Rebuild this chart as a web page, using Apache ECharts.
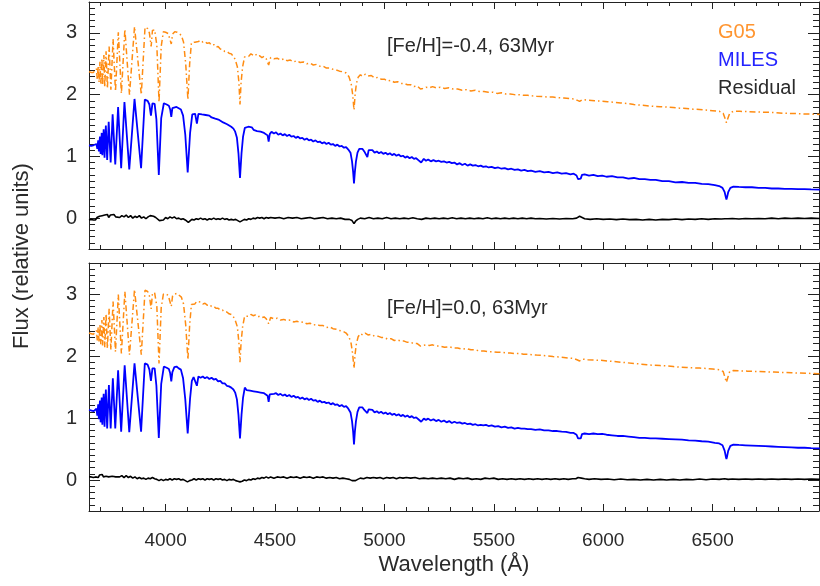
<!DOCTYPE html>
<html><head><meta charset="utf-8">
<script src="https://cdn.jsdelivr.net/npm/echarts@6/dist/echarts.min.js"></script>
<style>html,body{margin:0;padding:0;background:#fff}#c{width:820px;height:586px}</style>
</head><body><div id="c"></div>
<script>
// ---- axis / label values ----
const xTicks = [4000, 4500, 5000, 5500, 6000, 6500];
const yTicks = [0, 1, 2, 3];
const xRange = [3650, 6986];
const yRange = [-0.5, 3.5];
const panelLabels = ['[Fe/H]=-0.4, 63Myr', '[Fe/H]=0.0, 63Myr'];
const legendNames = ['G05', 'MILES', 'Residual'];
const xTitle = 'Wavelength (Å)';
const yTitle = 'Flux (relative units)';

// ---- top panel ([Fe/H]=-0.4) ----
const g05Top = [[3650,2.37],[3660,2.36],[3670,2.36],[3678,2.34],[3684,2.42],[3688,2.24],[3692,2.47],[3696,2.20],[3700,2.53],[3704,2.17],[3709,2.59],[3712,2.15],[3718,2.64],[3722,2.12],[3728,2.70],[3734,2.10],[3742,2.78],[3750,2.08],[3760,2.90],[3771,2.05],[3784,3.01],[3798,2.02],[3814,3.06],[3835,2.00],[3858,3.10],[3889,2.00],[3906,3.09],[3918,3.07],[3926,3.00],[3934,2.78],[3940,3.04],[3950,3.05],[3960,2.80],[3970,1.88],[3980,2.78],[3990,3.02],[4000,3.01],[4012,2.99],[4020,2.96],[4026,2.82],[4032,2.98],[4042,3.02],[4052,3.01],[4062,2.99],[4072,2.96],[4082,2.85],[4092,2.50],[4102,1.92],[4110,2.50],[4118,2.84],[4126,2.87],[4134,2.85],[4142,2.88],[4150,2.86],[4160,2.88],[4170,2.85],[4180,2.86],[4190,2.83],[4200,2.84],[4210,2.80],[4220,2.81],[4230,2.77],[4240,2.78],[4250,2.74],[4260,2.73],[4270,2.70],[4280,2.70],[4290,2.67],[4300,2.66],[4310,2.62],[4318,2.57],[4328,2.45],[4335,2.20],[4340,1.84],[4345,2.20],[4352,2.45],[4361,2.61],[4370,2.64],[4380,2.62],[4390,2.66],[4400,2.64],[4410,2.66],[4420,2.62],[4430,2.63],[4440,2.60],[4450,2.62],[4460,2.58],[4471,2.48],[4480,2.60],[4495,2.58],[4510,2.59],[4525,2.56],[4540,2.58],[4555,2.55],[4570,2.56],[4585,2.53],[4600,2.55],[4615,2.52],[4630,2.53],[4645,2.50],[4660,2.51],[4675,2.48],[4690,2.49],[4705,2.46],[4720,2.46],[4735,2.43],[4750,2.43],[4765,2.41],[4780,2.40],[4795,2.38],[4810,2.37],[4825,2.35],[4838,2.29],[4848,2.18],[4855,2.00],[4861,1.75],[4866,2.00],[4872,2.18],[4880,2.28],[4890,2.32],[4900,2.30],[4912,2.33],[4925,2.30],[4940,2.31],[4955,2.27],[4970,2.28],[4985,2.25],[5000,2.25],[5015,2.22],[5030,2.23],[5045,2.20],[5060,2.21],[5075,2.18],[5090,2.18],[5105,2.16],[5120,2.16],[5135,2.13],[5150,2.14],[5165,2.09],[5175,2.10],[5190,2.12],[5205,2.11],[5220,2.13],[5237,2.11],[5255,2.12],[5275,2.10],[5295,2.11],[5315,2.09],[5335,2.09],[5355,2.07],[5375,2.08],[5395,2.06],[5415,2.07],[5435,2.05],[5455,2.05],[5475,2.04],[5495,2.04],[5515,2.02],[5535,2.03],[5555,2.01],[5575,2.01],[5595,2.00],[5615,2.00],[5635,1.99],[5655,1.99],[5675,1.98],[5695,1.975],[5720,1.97],[5745,1.96],[5770,1.96],[5795,1.95],[5820,1.945],[5845,1.935],[5865,1.93],[5880,1.91],[5892,1.89],[5905,1.92],[5930,1.91],[5960,1.90],[5990,1.895],[6020,1.885],[6050,1.875],[6080,1.865],[6110,1.855],[6140,1.84],[6170,1.83],[6200,1.82],[6230,1.81],[6260,1.805],[6290,1.80],[6320,1.79],[6350,1.78],[6380,1.775],[6410,1.765],[6440,1.76],[6470,1.75],[6500,1.74],[6530,1.73],[6548,1.70],[6556,1.62],[6563,1.545],[6570,1.62],[6578,1.70],[6595,1.73],[6625,1.73],[6660,1.725],[6700,1.72],[6740,1.715],[6780,1.71],[6820,1.70],[6860,1.695],[6900,1.69],[6940,1.685],[6990,1.68]];

const milesTop = [[3650,1.18],[3660,1.17],[3670,1.18],[3678,1.16],[3684,1.20],[3688,1.12],[3692,1.26],[3695,1.08],[3700,1.32],[3703,1.04],[3708,1.38],[3711,1.02],[3717,1.44],[3721,0.98],[3727,1.50],[3733,0.94],[3740,1.56],[3749,0.90],[3758,1.68],[3770,0.87],[3783,1.80],[3797,0.81],[3812,1.88],[3834,0.79],[3858,1.93],[3888,0.81],[3905,1.92],[3918,1.90],[3926,1.84],[3933,1.66],[3940,1.86],[3950,1.85],[3958,1.60],[3969,0.70],[3980,1.62],[3992,1.86],[4005,1.84],[4015,1.82],[4021,1.76],[4026,1.64],[4031,1.78],[4040,1.81],[4050,1.80],[4060,1.78],[4070,1.76],[4080,1.66],[4090,1.35],[4101,0.74],[4112,1.38],[4122,1.68],[4128,1.71],[4135,1.69],[4143,1.53],[4150,1.69],[4158,1.66],[4166,1.68],[4175,1.65],[4183,1.67],[4192,1.64],[4200,1.66],[4210,1.63],[4218,1.65],[4227,1.61],[4236,1.63],[4245,1.59],[4254,1.60],[4263,1.55],[4272,1.57],[4281,1.52],[4290,1.51],[4300,1.48],[4310,1.45],[4318,1.40],[4326,1.30],[4333,1.05],[4340,0.65],[4347,1.05],[4354,1.32],[4362,1.46],[4370,1.44],[4378,1.48],[4386,1.45],[4394,1.47],[4402,1.43],[4410,1.45],[4418,1.41],[4426,1.43],[4434,1.40],[4442,1.42],[4450,1.38],[4458,1.40],[4466,1.34],[4471,1.24],[4476,1.36],[4484,1.40],[4495,1.37],[4505,1.39],[4515,1.35],[4525,1.37],[4535,1.34],[4545,1.36],[4555,1.33],[4565,1.35],[4575,1.32],[4585,1.33],[4595,1.30],[4605,1.32],[4615,1.29],[4625,1.30],[4635,1.27],[4645,1.29],[4655,1.26],[4665,1.27],[4675,1.24],[4685,1.26],[4695,1.23],[4705,1.24],[4715,1.21],[4725,1.23],[4735,1.20],[4745,1.22],[4755,1.19],[4765,1.20],[4775,1.17],[4785,1.19],[4795,1.16],[4805,1.17],[4815,1.14],[4825,1.15],[4835,1.11],[4845,1.06],[4852,0.92],[4857,0.75],[4861,0.56],[4865,0.75],[4870,0.92],[4877,1.06],[4885,1.12],[4893,1.09],[4900,1.12],[4908,1.08],[4915,1.10],[4922,0.99],[4928,1.10],[4936,1.07],[4945,1.10],[4955,1.06],[4965,1.08],[4975,1.05],[4985,1.07],[4995,1.04],[5005,1.06],[5015,1.03],[5025,1.05],[5035,1.02],[5045,1.04],[5055,1.01],[5065,1.03],[5075,1.00],[5085,1.01],[5095,0.98],[5105,1.00],[5115,0.97],[5125,0.99],[5135,0.96],[5145,0.97],[5155,0.94],[5163,0.96],[5168,0.90],[5174,0.92],[5180,0.96],[5190,0.93],[5200,0.95],[5212,0.92],[5224,0.94],[5236,0.92],[5248,0.93],[5260,0.91],[5272,0.92],[5284,0.90],[5296,0.91],[5308,0.89],[5320,0.90],[5332,0.87],[5344,0.89],[5356,0.86],[5368,0.88],[5380,0.85],[5392,0.87],[5404,0.85],[5416,0.86],[5428,0.84],[5440,0.85],[5452,0.83],[5464,0.84],[5476,0.82],[5490,0.83],[5505,0.81],[5520,0.82],[5535,0.80],[5550,0.81],[5565,0.79],[5580,0.80],[5595,0.78],[5610,0.79],[5625,0.77],[5640,0.78],[5655,0.76],[5670,0.77],[5690,0.75],[5710,0.76],[5730,0.74],[5750,0.75],[5770,0.73],[5790,0.74],[5810,0.72],[5830,0.73],[5850,0.71],[5865,0.72],[5878,0.69],[5885,0.63],[5891,0.61],[5897,0.64],[5903,0.70],[5915,0.71],[5935,0.69],[5955,0.70],[5975,0.68],[5995,0.69],[6015,0.67],[6040,0.68],[6065,0.66],[6090,0.66],[6115,0.64],[6140,0.65],[6165,0.63],[6190,0.63],[6215,0.62],[6240,0.62],[6270,0.60],[6300,0.60],[6330,0.58],[6360,0.585],[6390,0.57],[6420,0.57],[6450,0.555],[6480,0.55],[6510,0.535],[6530,0.52],[6545,0.49],[6555,0.42],[6560,0.34],[6563,0.30],[6566,0.34],[6571,0.42],[6581,0.49],[6595,0.51],[6620,0.505],[6650,0.50],[6680,0.50],[6710,0.49],[6740,0.49],[6770,0.48],[6800,0.48],[6830,0.475],[6860,0.475],[6890,0.47],[6920,0.47],[6950,0.465],[6990,0.46]];

const residTop = [[3650,-0.03],[3660,-0.02],[3670,-0.03],[3680,-0.03],[3686,0.01],[3692,-0.01],[3698,0.03],[3704,0.0],[3710,0.04],[3716,0.01],[3722,0.05],[3728,0.02],[3734,0.06],[3740,0.01],[3748,0.05],[3756,0.02],[3764,0.06],[3772,0.02],[3780,0.05],[3790,0.01],[3800,0.04],[3810,0.02],[3820,0.05],[3830,0.01],[3840,0.04],[3850,0.0],[3860,0.03],[3870,0.01],[3880,0.04],[3890,0.0],[3900,0.02],[3910,-0.01],[3920,0.02],[3930,0.04],[3937,0.07],[3945,0.03],[3955,0.01],[3963,-0.02],[3972,-0.04],[3980,-0.01],[3990,-0.03],[4000,0.01],[4010,-0.01],[4020,0.02],[4030,0.0],[4040,0.02],[4050,-0.01],[4060,0.0],[4070,-0.02],[4080,-0.01],[4090,-0.03],[4098,-0.05],[4104,-0.07],[4110,-0.04],[4120,-0.02],[4130,-0.03],[4140,-0.01],[4150,-0.02],[4160,0.0],[4170,-0.02],[4180,-0.01],[4190,-0.03],[4200,-0.01],[4210,-0.02],[4220,0.0],[4230,-0.02],[4240,-0.01],[4250,-0.02],[4260,0.0],[4270,-0.02],[4280,-0.01],[4290,-0.03],[4300,-0.02],[4310,-0.03],[4320,-0.02],[4330,-0.04],[4340,-0.06],[4350,-0.04],[4360,-0.02],[4370,-0.03],[4380,-0.01],[4390,-0.02],[4400,0.0],[4410,-0.01],[4420,0.01],[4430,0.0],[4440,0.01],[4450,-0.01],[4460,0.01],[4470,0.0],[4480,0.01],[4500,0.0],[4520,0.01],[4540,-0.01],[4560,0.01],[4580,0.0],[4600,0.01],[4620,-0.01],[4640,0.0],[4660,0.01],[4680,-0.01],[4700,0.0],[4720,0.01],[4740,-0.01],[4760,0.0],[4780,-0.01],[4800,0.0],[4820,-0.02],[4840,-0.02],[4852,-0.04],[4861,-0.09],[4868,-0.05],[4878,-0.02],[4890,0.0],[4910,-0.01],[4930,0.01],[4950,-0.01],[4970,0.0],[4990,-0.01],[5010,0.01],[5030,-0.01],[5050,0.0],[5070,-0.01],[5090,0.0],[5110,-0.01],[5130,0.005],[5150,-0.01],[5170,-0.02],[5190,0.0],[5210,-0.01],[5230,0.0],[5250,-0.01],[5270,0.0],[5290,-0.01],[5310,0.005],[5330,-0.01],[5350,0.0],[5370,-0.01],[5390,0.0],[5410,-0.01],[5430,0.0],[5450,-0.01],[5470,0.005],[5490,-0.01],[5510,0.0],[5530,-0.01],[5550,0.0],[5570,-0.01],[5590,0.0],[5610,-0.01],[5630,0.0],[5650,-0.01],[5670,0.0],[5690,-0.01],[5710,-0.005],[5740,-0.015],[5770,-0.005],[5800,-0.015],[5830,-0.005],[5860,-0.01],[5878,0.0],[5886,0.02],[5892,0.03],[5900,0.01],[5915,-0.01],[5940,-0.02],[5970,-0.01],[6000,-0.02],[6030,-0.015],[6060,-0.025],[6090,-0.015],[6120,-0.025],[6150,-0.02],[6180,-0.03],[6210,-0.02],[6240,-0.03],[6270,-0.02],[6300,-0.025],[6330,-0.015],[6360,-0.025],[6390,-0.015],[6420,-0.02],[6450,-0.01],[6480,-0.02],[6510,-0.01],[6540,-0.015],[6556,-0.01],[6563,0.01],[6570,-0.01],[6590,-0.005],[6620,-0.015],[6650,-0.005],[6680,-0.01],[6710,-0.005],[6740,-0.01],[6770,0.0],[6800,-0.01],[6830,0.0],[6860,-0.005],[6890,0.0],[6920,-0.005],[6950,0.0],[6990,-0.005]];

// ---- bottom panel ([Fe/H]=0.0) ----
const g05Bot = [[3650,2.37],[3660,2.36],[3670,2.35],[3678,2.34],[3684,2.41],[3688,2.25],[3692,2.46],[3696,2.22],[3700,2.52],[3704,2.19],[3709,2.58],[3712,2.17],[3718,2.63],[3722,2.14],[3728,2.68],[3734,2.12],[3742,2.76],[3750,2.10],[3760,2.88],[3771,2.07],[3784,2.99],[3798,2.04],[3814,3.04],[3835,2.02],[3858,3.07],[3889,2.02],[3906,3.06],[3918,3.04],[3926,2.97],[3934,2.76],[3940,3.01],[3950,3.02],[3960,2.80],[3970,1.88],[3980,2.78],[3990,3.00],[4000,3.00],[4012,2.98],[4020,2.95],[4026,2.80],[4032,2.97],[4042,3.00],[4052,3.01],[4062,2.98],[4072,2.95],[4082,2.84],[4092,2.50],[4102,1.94],[4110,2.50],[4118,2.83],[4126,2.86],[4134,2.84],[4142,2.88],[4150,2.86],[4160,2.87],[4170,2.84],[4180,2.85],[4190,2.82],[4200,2.83],[4210,2.80],[4220,2.80],[4230,2.77],[4240,2.77],[4250,2.74],[4260,2.74],[4270,2.71],[4280,2.71],[4290,2.68],[4300,2.67],[4310,2.63],[4318,2.58],[4328,2.47],[4335,2.22],[4340,1.90],[4345,2.22],[4352,2.47],[4361,2.64],[4370,2.66],[4380,2.64],[4390,2.67],[4400,2.65],[4410,2.66],[4420,2.63],[4430,2.64],[4440,2.62],[4450,2.63],[4460,2.60],[4471,2.52],[4480,2.62],[4495,2.60],[4510,2.61],[4525,2.58],[4540,2.59],[4555,2.57],[4570,2.58],[4585,2.55],[4600,2.56],[4615,2.54],[4630,2.55],[4645,2.52],[4660,2.53],[4675,2.50],[4690,2.51],[4705,2.49],[4720,2.49],[4735,2.46],[4750,2.47],[4765,2.44],[4780,2.43],[4795,2.41],[4810,2.40],[4825,2.37],[4838,2.31],[4848,2.20],[4855,2.03],[4861,1.80],[4866,2.03],[4872,2.20],[4880,2.31],[4890,2.36],[4900,2.34],[4912,2.37],[4925,2.34],[4940,2.35],[4955,2.32],[4970,2.32],[4985,2.30],[5000,2.30],[5015,2.27],[5030,2.28],[5045,2.25],[5060,2.26],[5075,2.24],[5090,2.24],[5105,2.22],[5120,2.22],[5135,2.20],[5150,2.20],[5165,2.16],[5175,2.17],[5190,2.18],[5205,2.17],[5220,2.18],[5237,2.16],[5255,2.16],[5275,2.14],[5295,2.15],[5315,2.13],[5335,2.13],[5355,2.11],[5375,2.12],[5395,2.10],[5415,2.10],[5435,2.08],[5455,2.08],[5475,2.07],[5495,2.07],[5515,2.06],[5535,2.06],[5555,2.05],[5575,2.05],[5595,2.04],[5615,2.04],[5635,2.03],[5655,2.03],[5675,2.02],[5695,2.015],[5720,2.01],[5745,2.00],[5770,1.99],[5795,1.985],[5820,1.975],[5845,1.965],[5865,1.96],[5880,1.94],[5892,1.92],[5905,1.95],[5930,1.94],[5960,1.935],[5990,1.93],[6020,1.92],[6050,1.91],[6080,1.90],[6110,1.89],[6140,1.88],[6170,1.87],[6200,1.86],[6230,1.85],[6260,1.845],[6290,1.84],[6320,1.83],[6350,1.82],[6380,1.815],[6410,1.81],[6440,1.805],[6470,1.80],[6500,1.79],[6530,1.78],[6548,1.75],[6556,1.66],[6563,1.575],[6570,1.66],[6578,1.75],[6595,1.765],[6625,1.76],[6660,1.755],[6700,1.75],[6740,1.745],[6780,1.74],[6820,1.735],[6860,1.73],[6900,1.725],[6940,1.72],[6990,1.715]];

const milesBot = [[3650,1.13],[3662,1.12],[3672,1.11],[3680,1.10],[3684,1.15],[3688,1.04],[3692,1.22],[3695,0.98],[3700,1.28],[3703,0.93],[3708,1.33],[3711,0.89],[3717,1.39],[3721,0.86],[3727,1.46],[3733,0.83],[3741,1.53],[3749,0.83],[3759,1.64],[3770,0.83],[3783,1.77],[3797,0.78],[3813,1.85],[3834,0.77],[3858,1.88],[3888,0.78],[3905,1.88],[3918,1.86],[3926,1.78],[3933,1.60],[3940,1.80],[3950,1.80],[3958,1.52],[3969,0.68],[3980,1.55],[3992,1.83],[4005,1.81],[4015,1.79],[4021,1.72],[4026,1.59],[4031,1.74],[4040,1.82],[4050,1.83],[4060,1.80],[4070,1.78],[4080,1.64],[4090,1.30],[4101,0.75],[4112,1.32],[4120,1.60],[4128,1.66],[4136,1.64],[4143,1.52],[4150,1.67],[4160,1.65],[4170,1.67],[4180,1.64],[4190,1.66],[4200,1.63],[4210,1.65],[4220,1.62],[4230,1.63],[4240,1.59],[4250,1.60],[4260,1.56],[4270,1.56],[4280,1.52],[4290,1.51],[4300,1.49],[4310,1.46],[4318,1.41],[4326,1.30],[4333,1.05],[4340,0.67],[4347,1.05],[4354,1.33],[4362,1.49],[4370,1.45],[4378,1.48],[4386,1.44],[4394,1.46],[4402,1.43],[4410,1.45],[4418,1.42],[4426,1.44],[4434,1.41],[4442,1.43],[4450,1.40],[4458,1.42],[4466,1.36],[4471,1.26],[4476,1.38],[4484,1.41],[4495,1.39],[4505,1.40],[4515,1.37],[4525,1.39],[4535,1.36],[4545,1.38],[4555,1.35],[4565,1.37],[4575,1.34],[4585,1.36],[4595,1.33],[4605,1.34],[4615,1.31],[4625,1.33],[4635,1.30],[4645,1.32],[4655,1.29],[4665,1.31],[4675,1.28],[4685,1.29],[4695,1.26],[4705,1.28],[4715,1.25],[4725,1.26],[4735,1.24],[4745,1.25],[4755,1.22],[4765,1.24],[4775,1.21],[4785,1.22],[4795,1.19],[4805,1.21],[4815,1.18],[4825,1.19],[4835,1.15],[4845,1.09],[4852,0.95],[4857,0.78],[4861,0.575],[4865,0.78],[4870,0.95],[4877,1.10],[4885,1.17],[4893,1.14],[4900,1.17],[4908,1.13],[4915,1.15],[4922,1.08],[4928,1.14],[4936,1.11],[4945,1.13],[4955,1.09],[4965,1.11],[4975,1.08],[4985,1.10],[4995,1.07],[5005,1.09],[5015,1.06],[5025,1.08],[5035,1.05],[5045,1.07],[5055,1.04],[5065,1.06],[5075,1.03],[5085,1.05],[5095,1.02],[5105,1.04],[5115,1.01],[5125,1.03],[5135,1.00],[5145,1.01],[5155,0.98],[5163,1.00],[5168,0.94],[5174,0.95],[5180,0.99],[5190,0.97],[5200,0.99],[5212,0.96],[5224,0.98],[5236,0.95],[5248,0.97],[5260,0.94],[5272,0.96],[5284,0.93],[5296,0.95],[5308,0.92],[5320,0.94],[5332,0.92],[5344,0.93],[5356,0.91],[5368,0.92],[5380,0.90],[5392,0.91],[5404,0.89],[5416,0.90],[5428,0.88],[5440,0.89],[5452,0.88],[5464,0.89],[5476,0.87],[5490,0.88],[5505,0.86],[5520,0.87],[5535,0.85],[5550,0.86],[5565,0.84],[5580,0.85],[5595,0.83],[5610,0.84],[5625,0.83],[5640,0.83],[5655,0.82],[5670,0.82],[5690,0.81],[5710,0.815],[5730,0.80],[5750,0.80],[5770,0.79],[5790,0.79],[5810,0.78],[5830,0.775],[5850,0.76],[5865,0.76],[5878,0.73],[5885,0.67],[5891,0.645],[5897,0.67],[5903,0.74],[5915,0.75],[5935,0.74],[5955,0.75],[5975,0.74],[5995,0.745],[6015,0.73],[6040,0.72],[6065,0.71],[6090,0.71],[6115,0.70],[6140,0.69],[6165,0.68],[6190,0.68],[6215,0.67],[6240,0.67],[6270,0.665],[6300,0.66],[6330,0.655],[6360,0.65],[6390,0.64],[6420,0.635],[6450,0.625],[6480,0.62],[6510,0.60],[6530,0.59],[6545,0.56],[6555,0.47],[6560,0.38],[6563,0.34],[6566,0.38],[6571,0.47],[6581,0.55],[6595,0.57],[6620,0.565],[6650,0.56],[6680,0.555],[6710,0.55],[6740,0.545],[6770,0.54],[6800,0.535],[6830,0.53],[6860,0.525],[6890,0.52],[6920,0.52],[6950,0.515],[6990,0.51]];

const residBot = [[3650,0.05],[3660,0.05],[3670,0.04],[3680,0.05],[3686,0.07],[3692,0.04],[3698,0.08],[3704,0.05],[3710,0.09],[3716,0.05],[3722,0.08],[3728,0.06],[3734,0.09],[3740,0.05],[3748,0.08],[3756,0.06],[3764,0.09],[3772,0.05],[3780,0.08],[3790,0.05],[3800,0.07],[3810,0.04],[3820,0.07],[3830,0.04],[3840,0.06],[3850,0.03],[3860,0.05],[3870,0.02],[3880,0.04],[3890,0.02],[3900,0.03],[3910,0.01],[3920,0.03],[3930,0.02],[3940,0.04],[3950,0.02],[3960,0.01],[3970,-0.01],[3980,0.01],[3990,-0.01],[4000,0.01],[4010,0.0],[4020,0.02],[4030,0.0],[4040,0.02],[4050,0.01],[4060,0.02],[4070,0.0],[4080,0.01],[4090,-0.01],[4100,-0.03],[4110,-0.01],[4120,0.0],[4130,0.02],[4140,0.0],[4150,0.02],[4160,0.01],[4170,0.02],[4180,0.0],[4190,0.02],[4200,0.01],[4210,0.02],[4220,0.0],[4230,0.02],[4240,0.01],[4250,0.02],[4260,0.0],[4270,0.01],[4280,-0.01],[4290,0.01],[4300,0.0],[4310,0.01],[4320,-0.01],[4330,-0.02],[4340,-0.03],[4350,-0.02],[4360,0.0],[4370,-0.01],[4380,0.01],[4390,0.0],[4400,0.02],[4410,0.01],[4420,0.03],[4430,0.02],[4440,0.04],[4450,0.03],[4460,0.05],[4470,0.03],[4480,0.05],[4495,0.03],[4510,0.05],[4525,0.04],[4540,0.05],[4555,0.03],[4570,0.05],[4585,0.04],[4600,0.05],[4615,0.03],[4630,0.05],[4645,0.04],[4660,0.05],[4675,0.03],[4690,0.05],[4705,0.04],[4720,0.05],[4735,0.03],[4750,0.04],[4765,0.03],[4780,0.04],[4795,0.02],[4810,0.03],[4825,0.02],[4840,0.01],[4852,-0.01],[4861,-0.04],[4868,-0.01],[4878,0.01],[4890,0.03],[4905,0.02],[4920,0.04],[4935,0.03],[4950,0.04],[4965,0.03],[4980,0.04],[4995,0.02],[5010,0.04],[5025,0.03],[5040,0.04],[5055,0.02],[5070,0.04],[5085,0.03],[5100,0.04],[5120,0.03],[5140,0.04],[5160,0.02],[5180,0.03],[5200,0.02],[5220,0.03],[5240,0.02],[5260,0.03],[5280,0.02],[5300,0.03],[5320,0.01],[5340,0.03],[5360,0.02],[5380,0.03],[5400,0.01],[5420,0.02],[5440,0.01],[5460,0.03],[5480,0.02],[5500,0.03],[5520,0.01],[5540,0.02],[5560,0.01],[5580,0.02],[5600,0.01],[5620,0.02],[5640,0.01],[5660,0.02],[5680,0.01],[5700,0.02],[5720,0.01],[5740,0.02],[5760,0.01],[5780,0.02],[5800,0.01],[5820,0.02],[5840,0.01],[5860,0.02],[5875,0.02],[5885,0.04],[5892,0.05],[5900,0.03],[5915,0.02],[5935,0.01],[5960,0.02],[5990,0.01],[6020,0.015],[6050,0.005],[6080,0.015],[6110,0.005],[6140,0.01],[6170,0.0],[6200,0.01],[6230,0.0],[6260,0.01],[6290,0.0],[6320,0.01],[6350,0.0],[6380,0.01],[6410,0.005],[6440,0.015],[6470,0.005],[6500,0.015],[6530,0.01],[6555,0.02],[6563,0.03],[6571,0.01],[6590,0.015],[6620,0.01],[6650,0.015],[6680,0.01],[6710,0.015],[6740,0.01],[6770,0.015],[6800,0.01],[6830,0.015],[6860,0.01],[6890,0.015],[6920,0.01],[6950,0.015],[6990,0.01]];

// ---- styling ----
const FONT = '"Liberation Sans", Arial, Helvetica, sans-serif';
const TXT = '#2a2a2a';
const AX = '#222';
const C_G05 = '#FF8C12';
const C_MILES = '#0000FF';
const C_RES = '#000000';

const minorX = [];
for (let w = 3700; w <= 6900; w += 100) if (w % 500 !== 0) minorX.push(w);
const minorY = [];
for (let k = -4; k <= 34; k++) if (k % 10 !== 0) minorY.push(k / 10);

const grids = [
  {left: 89, top: 2, width: 730, height: 247, show: false},
  {left: 89, top: 263, width: 730, height: 248, show: false}
];

const xAxes = [], yAxes = [];
function addAxes(g, withLabels) {
  const base = {gridIndex: g, type: 'value', min: xRange[0], max: xRange[1], splitLine: {show: false}, axisLabel: {show: false}};
  const bx = xAxes.length;
  xAxes.push(Object.assign({}, base, {
    position: 'bottom',
    axisLine: {show: true, onZero: false, lineStyle: {color: AX, width: 1}},
    axisTick: {show: true, inside: true, length: 7, customValues: xTicks, lineStyle: {color: AX}},
    axisLabel: {show: withLabels, customValues: xTicks, margin: 20, fontSize: 19, color: TXT, fontFamily: FONT,
                formatter: v => String(v)},
    name: withLabels ? xTitle : '', nameLocation: 'middle', nameGap: 43,
    nameTextStyle: {fontSize: 22, color: TXT, fontFamily: FONT}
  }));
  xAxes.push(Object.assign({}, base, {position: 'bottom', axisLine: {show: false, onZero: false},
    axisTick: {show: true, inside: true, length: 4, customValues: minorX, lineStyle: {color: AX}}}));
  xAxes.push(Object.assign({}, base, {position: 'top', axisLine: {show: true, onZero: false, lineStyle: {color: AX, width: 1}},
    axisTick: {show: true, inside: true, length: 7, customValues: xTicks, lineStyle: {color: AX}}}));
  xAxes.push(Object.assign({}, base, {position: 'top', axisLine: {show: false, onZero: false},
    axisTick: {show: true, inside: true, length: 4, customValues: minorX, lineStyle: {color: AX}}}));

  const ybase = {gridIndex: g, type: 'value', min: yRange[0], max: yRange[1], splitLine: {show: false}, axisLabel: {show: false}};
  const by = yAxes.length;
  yAxes.push(Object.assign({}, ybase, {position: 'left',
    axisLine: {show: true, onZero: false, lineStyle: {color: AX, width: 1}},
    axisTick: {show: true, inside: true, length: 11, customValues: yTicks, lineStyle: {color: AX}},
    axisLabel: {show: true, customValues: yTicks, margin: 12, fontSize: 20, color: TXT, fontFamily: FONT,
                formatter: v => String(v)}}));
  yAxes.push(Object.assign({}, ybase, {position: 'left', axisLine: {show: false, onZero: false},
    axisTick: {show: true, inside: true, length: 6, customValues: minorY, lineStyle: {color: AX}}}));
  yAxes.push(Object.assign({}, ybase, {position: 'right', axisLine: {show: true, onZero: false, lineStyle: {color: AX, width: 1}},
    axisTick: {show: true, inside: true, length: 11, customValues: yTicks, lineStyle: {color: AX}}}));
  yAxes.push(Object.assign({}, ybase, {position: 'right', axisLine: {show: false, onZero: false},
    axisTick: {show: true, inside: true, length: 6, customValues: minorY, lineStyle: {color: AX}}}));
  return {bx, by};
}
const ax0 = addAxes(0, false);
const ax1 = addAxes(1, true);

function line(name, data, ax, color, width, type) {
  return {
    name, type: 'line', data, xAxisIndex: ax.bx, yAxisIndex: ax.by,
    showSymbol: false, symbol: 'none', smooth: false, clip: true, silent: true,
    lineStyle: {color, width, type: type || 'solid'}
  };
}
const dashDot = [6, 3, 1.5, 3];
const series = [
  line(legendNames[2], residTop, ax0, C_RES, 1.6),
  line(legendNames[1], milesTop, ax0, C_MILES, 1.8),
  line(legendNames[0], g05Top, ax0, C_G05, 1.5, dashDot),
  line(legendNames[2], residBot, ax1, C_RES, 1.6),
  line(legendNames[1], milesBot, ax1, C_MILES, 1.8),
  line(legendNames[0], g05Bot, ax1, C_G05, 1.5, dashDot)
];

function txt(text, x, y, size, color, align, rot) {
  return {type: 'text', x, y, rotation: rot || 0, silent: true, z: 100,
    style: {text, font: size + 'px ' + FONT, fill: color, align: align || 'left', verticalAlign: 'middle',
            textAlign: align || 'left', textVerticalAlign: 'middle'}};
}
const graphics = [
  txt(panelLabels[0], 387, 46, 20, TXT),
  txt(panelLabels[1], 387, 308, 20, TXT),
  txt(legendNames[0], 718, 32, 20, '#FF9530'),
  txt(legendNames[1], 718, 60, 20, '#2323FF'),
  txt(legendNames[2], 718, 88, 20, TXT),
  txt(yTitle, 22, 256, 22, TXT, 'center', Math.PI / 2)
];

const chart = echarts.init(document.getElementById('c'), null, {renderer: 'canvas'});
chart.setOption({
  animation: false,
  backgroundColor: '#fff',
  grid: grids,
  xAxis: xAxes,
  yAxis: yAxes,
  series,
  graphic: graphics
});
</script>
</body></html>
